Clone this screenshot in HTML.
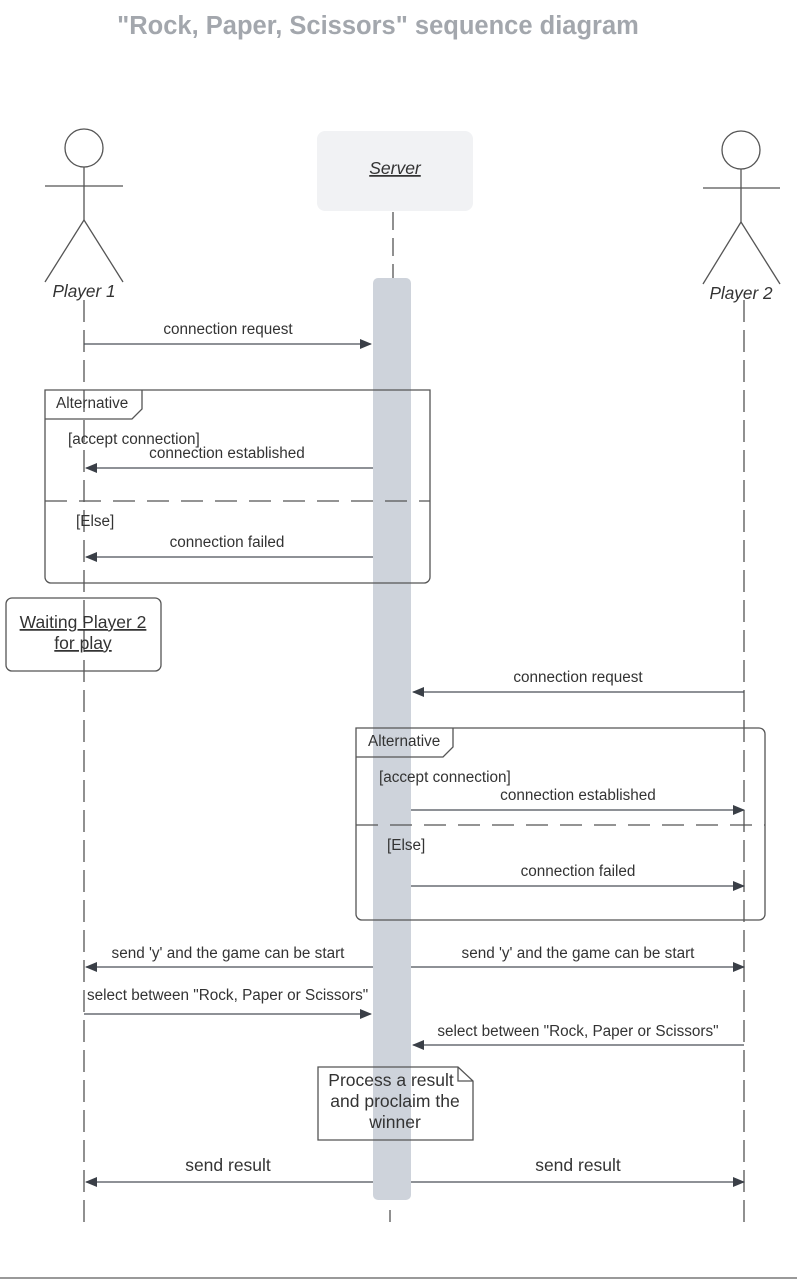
<!DOCTYPE html>
<html><head><meta charset="utf-8"><style>
body{margin:0;background:#fff;width:797px;height:1280px;overflow:hidden}
text{font-family:"Liberation Sans",sans-serif;fill:#333}
</style></head><body>
<svg width="797" height="1280" viewBox="0 0 797 1280" xmlns="http://www.w3.org/2000/svg">
<defs>
<marker id="a" markerWidth="12" markerHeight="10" refX="11" refY="5" orient="auto" markerUnits="userSpaceOnUse"><path d="M0,0 L12,5 L0,10 Z" fill="#3a3f47"/></marker>
</defs>
<text x="378" y="34" text-anchor="middle" font-size="25.5" font-weight="bold" style="fill:#a3a7ad">"Rock, Paper, Scissors" sequence diagram</text>
<g stroke="#555" stroke-width="1.3" fill="none">
<line x1="84" y1="300" x2="84" y2="1222" stroke-dasharray="22,8"/>
<line x1="393" y1="212" x2="393" y2="278" stroke-dasharray="18,8"/>
<line x1="390" y1="1210" x2="390" y2="1222"/>
<line x1="744" y1="300" x2="744" y2="1222" stroke-dasharray="22,8"/>
<circle cx="84" cy="148" r="19"/>
<line x1="84" y1="167" x2="84" y2="220"/><line x1="45" y1="186" x2="123" y2="186"/>
<line x1="84" y1="220" x2="45" y2="282"/><line x1="84" y1="220" x2="123" y2="282"/>
<circle cx="741" cy="150" r="19"/>
<line x1="741" y1="169" x2="741" y2="222"/><line x1="703" y1="188" x2="780" y2="188"/>
<line x1="741" y1="222" x2="703" y2="284"/><line x1="741" y1="222" x2="780" y2="284"/>
</g>
<rect x="317" y="131" width="156" height="80" rx="8" fill="#f1f2f4"/>
<text x="395" y="174" text-anchor="middle" font-size="17.5" font-style="italic" text-decoration="underline">Server</text>
<text x="84" y="297" text-anchor="middle" font-size="17.2" font-style="italic">Player 1</text>
<text x="741" y="299" text-anchor="middle" font-size="17.2" font-style="italic">Player 2</text>
<rect x="373" y="278" width="38" height="922" rx="5" fill="#ced3db"/>
<g stroke="#555" stroke-width="1.3" fill="none">
<path d="M45,390 H430 V577 a6,6 0 0 1 -6,6 H51 a6,6 0 0 1 -6,-6 Z"/>
<path d="M45,419 H132 L142,409 V390"/>
<line x1="45" y1="501" x2="430" y2="501" stroke-dasharray="22,12"/>
<path d="M356,728 H759 a6,6 0 0 1 6,6 V914 a6,6 0 0 1 -6,6 H362 a6,6 0 0 1 -6,-6 Z"/>
<path d="M356,757 H443 L453,747 V728"/>
<line x1="356" y1="825" x2="765" y2="825" stroke-dasharray="22,12"/>
<rect x="6" y="598" width="155" height="73" rx="6"/>
<path d="M318,1067 H458 L473,1081 V1140 H318 Z"/><path d="M458,1067 V1081 H473"/>
</g>
<g stroke="#4a4f57" stroke-width="1.3" fill="none" marker-end="url(#a)">
<line x1="84" y1="344" x2="371" y2="344"/>
<line x1="373" y1="468" x2="86" y2="468"/>
<line x1="373" y1="557" x2="86" y2="557"/>
<line x1="744" y1="692" x2="413" y2="692"/>
<line x1="411" y1="810" x2="744" y2="810"/>
<line x1="411" y1="886" x2="744" y2="886"/>
<line x1="373" y1="967" x2="86" y2="967"/>
<line x1="411" y1="967" x2="744" y2="967"/>
<line x1="84" y1="1014" x2="371" y2="1014"/>
<line x1="744" y1="1045" x2="413" y2="1045"/>
<line x1="373" y1="1182" x2="86" y2="1182"/>
<line x1="411" y1="1182" x2="744" y2="1182"/>
</g>
<g font-size="15.3">
<text x="228" y="334" text-anchor="middle">connection request</text>
<text x="56" y="408">Alternative</text>
<text x="68" y="444">[accept connection]</text>
<text x="227" y="458" text-anchor="middle">connection established</text>
<text x="76" y="526">[Else]</text>
<text x="227" y="547" text-anchor="middle">connection failed</text>
<text x="578" y="682" text-anchor="middle">connection request</text>
<text x="368" y="746">Alternative</text>
<text x="379" y="782">[accept connection]</text>
<text x="578" y="800" text-anchor="middle">connection established</text>
<text x="387" y="850">[Else]</text>
<text x="578" y="876" text-anchor="middle">connection failed</text>
<text x="228" y="958" text-anchor="middle">send 'y' and the game can be start</text>
<text x="578" y="958" text-anchor="middle">send 'y' and the game can be start</text>
<text x="87" y="1000">select between "Rock, Paper or Scissors"</text>
<text x="578" y="1036" text-anchor="middle">select between "Rock, Paper or Scissors"</text>
</g>
<g font-size="17.5" text-anchor="middle">
<text x="83" y="628" text-decoration="underline">Waiting Player 2</text>
<text x="83" y="649" text-decoration="underline">for play</text>
<text x="391" y="1086">Process a result</text>
<text x="395" y="1107">and proclaim the</text>
<text x="395" y="1128">winner</text>
<text x="228" y="1171">send result</text>
<text x="578" y="1171">send result</text>
</g>
<line x1="0" y1="1278" x2="797" y2="1278" stroke="#999" stroke-width="2"/>
</svg>
</body></html>
